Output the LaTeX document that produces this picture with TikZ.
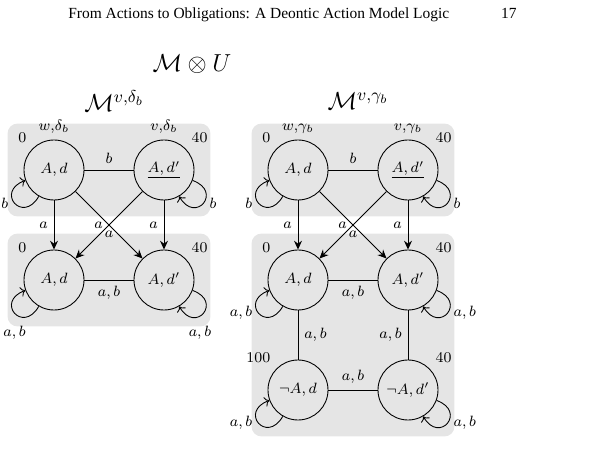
\documentclass[tikz,border=0pt]{standalone}
\usepackage{fix-cm}
\usepackage{fontspec}
\usepackage{amsmath}
\newfontfamily\headfont{Liberation Serif}
\usetikzlibrary{arrows.meta,positioning,fit,backgrounds}

\begin{document}
\begin{tikzpicture}[x=0.02cm,y=-0.02cm,
  font=\fontsize{8.5pt}{10pt}\selectfont,
  world/.style={circle,draw,line width=0.5pt,minimum size=1.2cm,inner sep=0pt},
  region/.style={fill=gray!20,rounded corners=0.2cm,inner sep=0.32cm},
  acc/.style={line width=0.5pt,-{Stealth[length=5pt,width=4.5pt]}},
  rel/.style={line width=0.5pt},
  refl/.style={line width=0.5pt,->,min distance=6.5mm},
  heading/.style={font=\fontsize{14pt}{16pt}\selectfont},
  runtext/.style={inner sep=0pt,font=\headfont\fontsize{8.8pt}{10pt}\selectfont}]
\useasboundingbox (0,0) rectangle (589,466);

% running head
\node[runtext,anchor=base west] (runhead) at (68,19) {From Actions to Obligations: A Deontic Action Model Logic};
\node[runtext,anchor=base east] (pageno) at (517,19) {17};

% titles
\node[heading] (prod) at (192,64) {$\mathcal{M}\otimes U$};
\node[heading] (mdelta) at (114,101) {$\mathcal{M}^{v,\delta_b}$};
\node[heading] (mgamma) at (358,101) {$\mathcal{M}^{v,\gamma_b}$};

% model for delta_b
\node[world,label={135:$0$},label={above:$w{,}\delta_b$}] (dw) at (54,170) {$A,d$};
\node[world,label={45:$40$},label={above:$v{,}\delta_b$}] (dv) at (164,170) {$\underline{A,d'}$};
\node[world,label={135:$0$}] (dAd) at (54,280) {$A,d$};
\node[world,label={45:$40$}] (dAdp) at (164,280) {$A,d'$};

\draw[rel] (dw) -- node[above] {$b$} (dv);
\draw[rel] (dAd) -- node[below] {$a,b$} (dAdp);
\draw[acc] (dw) -- node[left] {$a$} (dAd);
\draw[acc] (dv) -- node[left] {$a$} (dAdp);
\draw[acc] (dw) -- node[below] {$a$} (dAdp);
\draw[acc] (dv) -- node[left] {$a$} (dAd);
\draw[refl] (dw) to[out=240,in=200] node[left] {$b$} (dw);
\draw[refl] (dv) to[out=-20,in=-60] node[right] {$b$} (dv);
\draw[refl] (dAd) to[out=240,in=200] node[below=4pt] {$a,b$} (dAd);
\draw[refl] (dAdp) to[out=-20,in=-60] node[below=4pt,xshift=-2pt] {$a,b$} (dAdp);

% model for gamma_b
\node[world,label={135:$0$},label={above:$w{,}\gamma_b$}] (gw) at (298,170) {$A,d$};
\node[world,label={45:$40$},label={above:$v{,}\gamma_b$}] (gv) at (408,170) {$\underline{A,d'}$};
\node[world,label={135:$0$}] (gAd) at (298,280) {$A,d$};
\node[world,label={45:$40$}] (gAdp) at (408,280) {$A,d'$};
\node[world,label={135:$100$}] (gnAd) at (298,390) {$\neg A,d$};
\node[world,label={45:$40$}] (gnAdp) at (408,390) {$\neg A,d'$};

\draw[rel] (gw) -- node[above] {$b$} (gv);
\draw[rel] (gAd) -- node[below] {$a,b$} (gAdp);
\draw[rel] (gnAd) -- node[above] {$a,b$} (gnAdp);
\draw[rel] (gAd) -- node[right] {$a,b$} (gnAd);
\draw[rel] (gAdp) -- node[left] {$a,b$} (gnAdp);
\draw[acc] (gw) -- node[left] {$a$} (gAd);
\draw[acc] (gv) -- node[left] {$a$} (gAdp);
\draw[acc] (gw) -- node[below] {$a$} (gAdp);
\draw[acc] (gv) -- node[left] {$a$} (gAd);
\draw[refl] (gw) to[out=240,in=200] node[left] {$b$} (gw);
\draw[refl] (gv) to[out=-20,in=-60] node[right] {$b$} (gv);
\draw[refl] (gAd) to[out=240,in=200] node[left] {$a,b$} (gAd);
\draw[refl] (gAdp) to[out=-20,in=-60] node[right] {$a,b$} (gAdp);
\draw[refl] (gnAd) to[out=240,in=200] node[left] {$a,b$} (gnAd);
\draw[refl] (gnAdp) to[out=-20,in=-60] node[right] {$a,b$} (gnAdp);

% shaded groups
\begin{scope}[on background layer]
\node[region,fit=(dw)(dv)] (dtop) {};
\node[region,fit=(dAd)(dAdp)] (dbot) {};
\node[region,fit=(gw)(gv)] (gtop) {};
\node[region,fit=(gAd)(gAdp)(gnAd)(gnAdp)] (gbot) {};
\end{scope}
\end{tikzpicture}
\end{document}
